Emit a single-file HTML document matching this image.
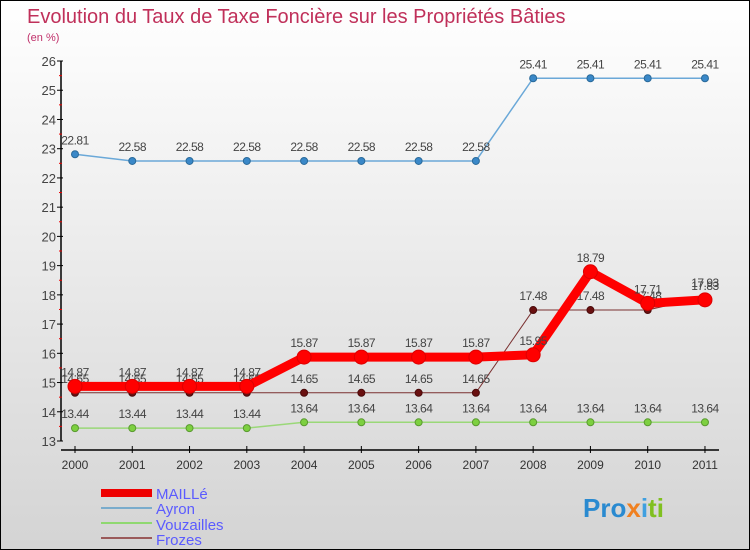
<!DOCTYPE html>
<html><head><meta charset="utf-8"><style>
body{margin:0}
#wrap{position:relative;width:748px;height:548px;border:1px solid #000;background:linear-gradient(#fff,#d4d4d4);overflow:hidden;font-family:"Liberation Sans",sans-serif}
</style></head><body>
<div id="wrap">
<svg id="svg" width="748" height="548" xmlns="http://www.w3.org/2000/svg">
<text x="26" y="22" font-size="20" fill="#c0305a">Evolution du Taux de Taxe Foncière sur les Propriétés Bâties</text>
<text x="26" y="40" font-size="11" fill="#c0306a">(en %)</text>
<g id="axes"></g><g id="series"></g>
<g>
<rect x="100" y="488" width="51" height="8" fill="#e00"/>
<text x="155" y="498" font-size="15" fill="#5b5bff">MAILLé</text>
<rect x="100" y="506" width="51" height="2" fill="#7aaccc"/>
<text x="155" y="513" font-size="15" fill="#5b5bff">Ayron</text>
<rect x="100" y="521" width="51" height="2" fill="#8fd870"/>
<text x="155" y="529" font-size="15" fill="#5b5bff">Vouzailles</text>
<rect x="100" y="536" width="51" height="2" fill="#9a5a5a"/>
<text x="155" y="544" font-size="15" fill="#5b5bff">Frozes</text>
</g>
<text x="582" y="516" font-size="26" font-weight="bold" fill="#2a8ad0">Pro<tspan fill="#f08020">x</tspan><tspan fill="#40a0e0">i</tspan><tspan fill="#80c020">ti</tspan></text>
</svg></div>
<script>
const years=[2000,2001,2002,2003,2004,2005,2006,2007,2008,2009,2010,2011];
const yTicks=[13,14,15,16,17,18,19,20,21,22,23,24,25,26];
const maille=[14.87,14.87,14.87,14.87,15.87,15.87,15.87,15.87,15.95,18.79,17.71,17.83];
const ayron=[22.81,22.58,22.58,22.58,22.58,22.58,22.58,22.58,25.41,25.41,25.41,25.41];
const vouzailles=[13.44,13.44,13.44,13.44,13.64,13.64,13.64,13.64,13.64,13.64,13.64,13.64];
const frozes=[14.65,14.65,14.65,14.65,14.65,14.65,14.65,14.65,17.48,17.48,17.48,17.93];
const NS="http://www.w3.org/2000/svg";
const X=i=>74+i*57.27, Y=v=>440-(v-13)*29.23;
function mk(t,a,p){const e=document.createElementNS(NS,t);for(const k in a)e.setAttribute(k,a[k]);p.appendChild(e);return e;}
const ax=document.getElementById('axes'), sg=document.getElementById('series');
const yl=mk('line',{x1:60,y1:Y(26),x2:60,y2:Y(13),stroke:'#000','stroke-width':1.5},ax);


const xl=mk('line',{x1:60,y1:449,x2:718,y2:449,stroke:'#000','stroke-width':1.5},ax);


yTicks.forEach(v=>{
 mk('line',{x1:56,y1:Y(v),x2:62,y2:Y(v),stroke:'#000'},ax);
 if(v<26)mk('line',{x1:58,y1:Y(v+0.5),x2:61,y2:Y(v+0.5),stroke:'#e00'},ax);
 const t=mk('text',{x:55,y:Y(v)+5,'text-anchor':'end','font-size':13,fill:'#444'},ax);
 t.textContent=v;
 
 
});
years.forEach((y,i)=>{
 mk('line',{x1:X(i),y1:445,x2:X(i),y2:452,stroke:'#000'},ax);
 const t=mk('text',{x:X(i),y:468,'text-anchor':'middle','font-size':12,fill:'#333'},ax);
 t.textContent=y;
 
 
});
function series(name,data,color,w,r,dot,dotStroke){
 const g=mk('g',{},sg);
 
 
 const pl=mk('polyline',{points:data.map((v,i)=>X(i)+','+Y(v)).join(' '),fill:'none',stroke:color,'stroke-width':w,'stroke-linejoin':'round'},g);
 
 
 data.forEach((v,i)=>{
  const c=mk('circle',{cx:X(i),cy:Y(v),r:r,fill:dot,stroke:dotStroke,'stroke-width':1},g);
  
  
  const t=mk('text',{x:X(i),y:Y(v)-10,'text-anchor':'middle','font-size':12,fill:'#444','letter-spacing':'-0.5'},g);
  t.textContent=v.toFixed(2).replace(/0$/,'');
  
  
 });
}
series('vouzailles',vouzailles,'#9ad878',1.5,3.5,'#7dd040','#5a9a30');
series('ayron',ayron,'#6aa8d8',1.5,3.5,'#3a88c8','#2a6a9a');
series('frozes',frozes,'#7a3030',1,3.5,'#6a1010','#4a0a0a');
series('maille',maille,'#f00',9,7,'#f00','#d00');
</script>
</body></html>
